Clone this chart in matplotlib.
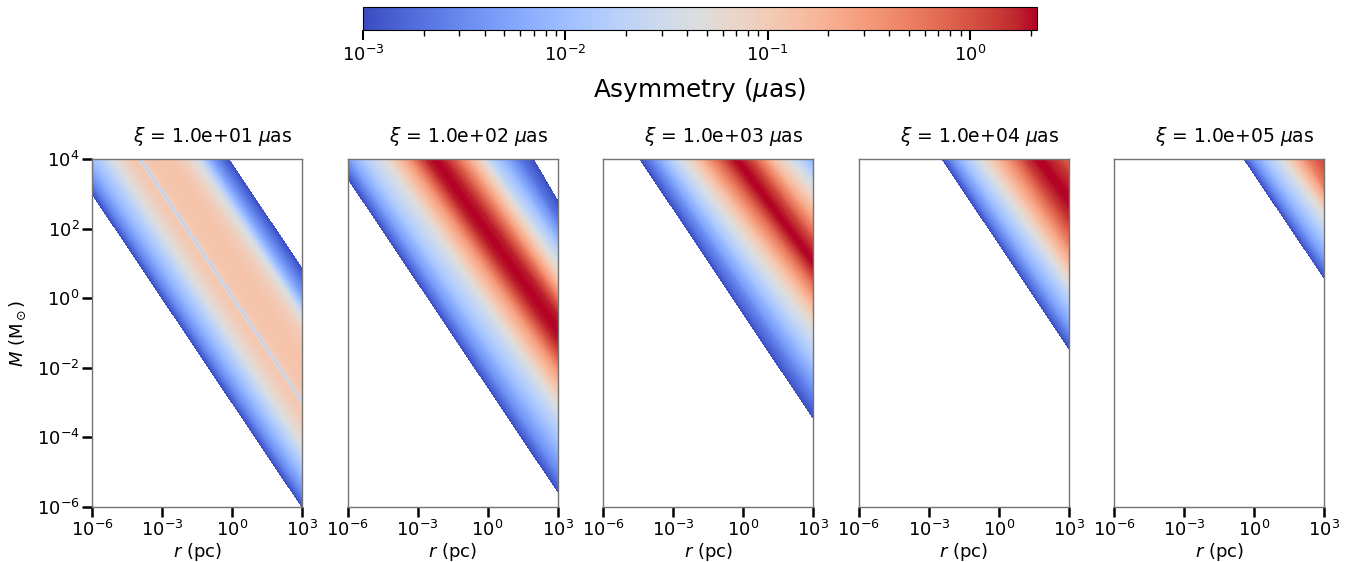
import numpy as np
import matplotlib
matplotlib.use('Agg')
import matplotlib.pyplot as plt
import matplotlib.tri as mtri
from matplotlib.colors import LogNorm, Normalize
from matplotlib.cm import ScalarMappable

plt.rcParams['font.size'] = 13

# impact parameter of each panel (uas)
xi_vals = [1e1, 1e2, 1e3, 1e4, 1e5]

# each band: asymmetry value (uas), log10 r where it meets M = 1e4,
# log10 M where it meets r = 1e3
asym_1 = [0.001, 0.003, 0.008, 0.02, 0.045, 0.08, 0.11, 0.1, 0.006, 0.1,
          0.12, 0.13, 0.1, 0.045, 0.015, 0.005, 0.002, 0.001]
top_1 = [-7.0, -6.6, -6.1, -5.5, -5.05, -4.6, -4.25, -4.07, -3.94, -3.81,
         -3.5, -2.8, -2.2, -1.6, -1.24, -0.9, -0.5, -0.15]
right_1 = [-6.0, -5.6, -5.1, -4.6, -4.2, -3.7, -3.3, -3.09, -2.97, -2.85,
           -2.5, -1.8, -1.1, -0.55, -0.3, 0.05, 0.5, 0.85]

asym_2 = [0.001, 0.003, 0.006, 0.02, 0.05, 0.1, 0.3, 1.0, 1.8, 2.2, 1.8,
          1.0, 0.3, 0.1, 0.05, 0.02, 0.006, 0.002, 0.001]
top_2 = [-6.55, -6.1, -5.8, -5.1, -4.35, -4.0, -3.4, -2.9, -2.6, -2.25, -1.9,
         -1.5, -0.95, -0.5, -0.2, 0.1, 0.8, 1.4, 1.95]
right_2 = [-5.55, -5.0, -4.5, -3.6, -3.05, -2.7, -2.1, -1.6, -1.25, -0.9, -0.5,
           -0.2, 0.2, 0.6, 0.9, 1.3, 1.8, 2.3, 2.8]

asym_3 = [0.001, 0.003, 0.008, 0.02, 0.045, 0.12, 0.4, 1.2, 1.8, 2.2, 1.8,
          1.2, 0.4, 0.12, 0.045, 0.02, 0.006, 0.002, 0.001]
top_3 = [-4.43, -3.9, -3.45, -3.0, -2.55, -2.0, -1.4, -0.8, -0.55, -0.3, 0.0,
         0.3, 0.8, 1.3, 1.9, 2.4, 3.0, 3.6, 4.0]
right_3 = [-3.45, -2.7, -2.05, -1.45, -0.9, -0.35, 0.2, 0.65, 0.85, 1.05, 1.3,
           1.6, 2.1, 2.65, 3.15, 3.5, 4.0, 4.6, 5.0]

asym_4 = [0.001, 0.004, 0.015, 0.045, 0.15, 0.5, 1.5, 2.3, 1.5, 0.5, 0.1, 0.001]
top_4 = [-2.43, -1.95, -1.35, -0.75, -0.1, 0.6, 1.2, 1.7, 2.4, 3.3, 4.0, 5.5]
right_4 = [-1.44, -0.85, -0.1, 0.45, 1.0, 1.6, 2.3, 2.85, 3.5, 4.3, 5.0, 6.5]

asym_5 = [0.001, 0.004, 0.015, 0.045, 0.15, 0.5, 1.0, 2.0, 1.0, 0.001]
top_5 = [-0.45, 0.0, 0.6, 1.2, 1.75, 2.3, 2.8, 3.5, 4.3, 7.0]
right_5 = [0.57, 1.1, 1.8, 2.35, 2.8, 3.2, 3.75, 4.5, 5.3, 8.0]

panels = [(asym_1, top_1, right_1), (asym_2, top_2, right_2),
          (asym_3, top_3, right_3), (asym_4, top_4, right_4),
          (asym_5, top_5, right_5)]

vmin, vmax = 1e-3, 2.15
levels = np.linspace(np.log10(vmin), np.log10(vmax), 160)
norm = Normalize(np.log10(vmin), np.log10(vmax))

fig = plt.figure(figsize=(13.6, 5.62), dpi=100)

for i, (asym, top, right) in enumerate(panels):
    ax = fig.add_axes([(92 + i * 255.6) / 1360, 1 - 507 / 562, 210 / 1360, 348 / 562])

    # band end points on the top edge and on the right edge (log10 coords),
    # pushed a little past the frame so the fill reaches the spines
    tx = np.array(top, float)
    ry = np.array(right, float)
    x0, y0 = tx, np.full_like(tx, 4.0)
    x1, y1 = np.full_like(ry, 3.0), ry
    dx, dy = x1 - x0, y1 - y0
    xs = np.concatenate([x0 - 0.05 * dx, x1 + 0.05 * dx])
    ys = np.concatenate([y0 - 0.05 * dy, y1 + 0.05 * dy])
    zs = np.log10(np.concatenate([asym, asym]))
    n = len(asym)
    tris = []
    for k in range(n - 1):
        tris.append([k, n + k, k + 1])
        tris.append([k + 1, n + k, n + k + 1])
    tri = mtri.Triangulation(xs, ys, tris)
    ax.tricontourf(tri, zs, levels=levels, cmap='coolwarm', norm=norm,
                   extend='max')

    ax.set_xlim(-6, 3)
    ax.set_ylim(-6, 4)
    ax.set_xticks([-6, -3, 0, 3])
    ax.set_xticklabels([r'$10^{-6}$', r'$10^{-3}$', r'$10^{0}$', r'$10^{3}$'])
    ax.set_yticks([-6, -4, -2, 0, 2, 4])
    ax.set_yticklabels([r'$10^{-6}$', r'$10^{-4}$', r'$10^{-2}$',
                        r'$10^{0}$', r'$10^{2}$', r'$10^{4}$'])
    ax.tick_params(direction='out', length=7, width=1.8, color='black',
                   labelsize=13, pad=2)
    if i > 0:
        ax.tick_params(axis='y', left=False, labelleft=False)
    else:
        ax.set_ylabel(r'$M$ (M$_\odot$)', fontsize=13, labelpad=6)
    for sp in ax.spines.values():
        sp.set_color('0.45')
        sp.set_linewidth(1.0)
    ax.set_xlabel(r'$r$ (pc)', fontsize=13, labelpad=1)
    ax.set_title(r'$\xi$ = %.1e $\mu$as' % xi_vals[i], fontsize=13.5,
                 pad=12, x=0.575)

cax = fig.add_axes([363 / 1360, 1 - 30 / 562, 674 / 1360, 23 / 562])
sm = ScalarMappable(norm=LogNorm(vmin, vmax), cmap='coolwarm')
cb = fig.colorbar(sm, cax=cax, orientation='horizontal')
cb.set_label(r'Asymmetry ($\mu$as)', fontsize=17.8, labelpad=8)
cb.ax.tick_params(which='major', length=7, width=1.5, labelsize=13)
cb.ax.tick_params(which='minor', length=4, width=1.0)
cb.outline.set_linewidth(0.8)

plt.savefig('out.png', dpi=100)
